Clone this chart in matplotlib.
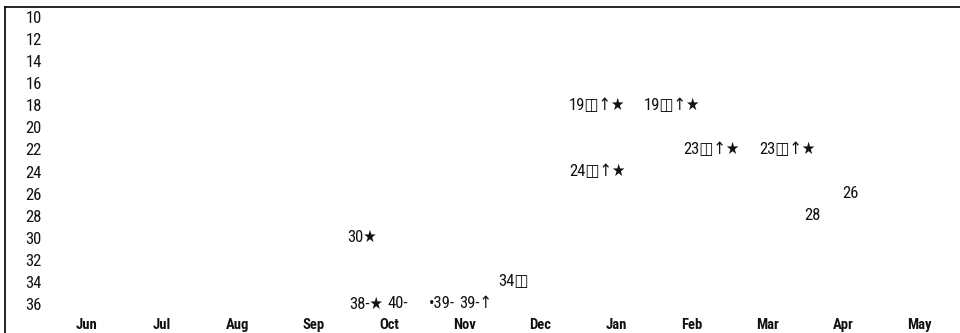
import matplotlib.pyplot as plt

# month axis (0 = Jun ... 11 = May)
months = ["Jun", "Jul", "Aug", "Sep", "Oct", "Nov", "Dec", "Jan", "Feb", "Mar", "Apr", "May"]
rank_ticks = list(range(10, 37, 2))

# labelled points: position in months, rank position, label text
pos_x = [3.70, 3.65, 4.11, 4.70, 5.14, 5.64, 6.75, 6.75, 7.74, 8.26, 9.26, 9.59, 10.09]
pos_y = [36, 30, 36, 36, 36, 34, 24, 18, 18, 22, 22, 28, 26]
labels = ["38-★", "30★", "40-", "•39-", "39-↑", "34◫", "24◫↑★", "19◫↑★",
          "19◫↑★", "23◫↑★", "23◫↑★", "28", "26"]

plt.rcParams["font.family"] = ["Roboto Condensed", "DejaVu Sans"]
plt.rcParams["font.stretch"] = "condensed"

fig = plt.figure(figsize=(9.6, 3.33), dpi=100)
ax = fig.add_axes([5 / 960, 0, 955 / 960, 326 / 333])

for x, y, s in zip(pos_x, pos_y, labels):
    ax.text(x, y, s, ha="center", va="center", fontsize=12, color="#111111")

ax.set_xlim(-1.07, 11.54)
ax.set_ylim(38.63, 9.09)
ax.set_xticks(range(len(months)))
ax.set_xticklabels(months, fontsize=10.5, fontweight="bold")
ax.set_yticks(rank_ticks)
ax.set_yticklabels([str(t) for t in rank_ticks], fontsize=12)
ax.tick_params(axis="y", length=0, pad=-26.6, labelcolor="#111111")
ax.tick_params(axis="x", length=0, pad=-11, labelcolor="#111111")
ax.spines["right"].set_visible(False)
ax.spines["bottom"].set_visible(False)
ax.spines["left"].set_linewidth(1.2)
ax.spines["top"].set_linewidth(1.2)

fig.savefig("out.png", dpi=100)
